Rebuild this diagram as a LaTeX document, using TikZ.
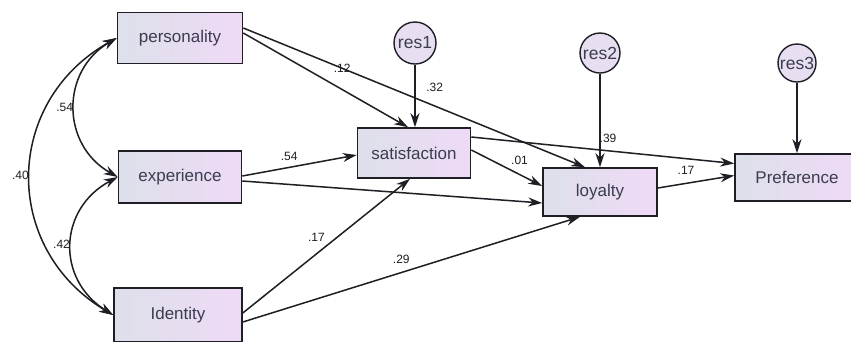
\documentclass[tikz,border=0pt]{standalone}
\usepackage{fontspec}
\setmainfont{Liberation Sans}
\usetikzlibrary{arrows.meta}
\definecolor{boxleft}{RGB}{221,224,234}
\definecolor{boxright}{RGB}{239,218,246}
\definecolor{resfill}{RGB}{232,222,242}
\definecolor{ink}{RGB}{30,30,36}
\definecolor{txt}{RGB}{60,60,80}
\tikzstyle{var} = [draw=ink, line width=1.6pt, left color=boxleft, right color=boxright, text=txt, font=\fontsize{17}{20}\selectfont]
\tikzstyle{res} = [circle, draw=ink, line width=1.4pt, fill=resfill, inner sep=0pt, text=txt, font=\fontsize{17.5}{20}\selectfont]
\tikzstyle{arrow} = [ink, line width=1.5pt, -{Stealth[length=14pt,width=9pt]}]
\tikzstyle{cov} = [ink, line width=1.5pt, {Stealth[length=14pt,width=9pt]}-{Stealth[length=14pt,width=9pt]}]
\tikzstyle{coef} = [text=ink, font=\fontsize{12}{14}\selectfont, inner sep=1pt]

\begin{document}
\begin{tikzpicture}[x=1pt, y=-1pt]
\useasboundingbox [fill=white] (0,0) rectangle (851,341);
\node (pers) [var, minimum width=125pt, minimum height=51pt] at (180,38) {personality};
\node (exp) [var, minimum width=123pt, minimum height=52pt] at (180,177) {experience};
\node (iden) [var, minimum width=128pt, minimum height=54pt] at (178,315) {Identity};
\node (sat) [var, minimum width=113pt, minimum height=50pt] at (414,153) {satisfaction};
\node (loy) [var, minimum width=114pt, minimum height=48pt] at (600,192) {loyalty};
\node (pref) [var, minimum width=124pt, minimum height=47pt] at (797,177.5) {Preference};
\node (res1) [res, minimum size=42pt] at (415,43) {res1};
\node (res2) [res, minimum size=40pt] at (600,53) {res2};
\node (res3) [res, minimum size=38pt] at (797,63) {res3};

\draw [cov] (pers.west) to [bend right=60, looseness=1.2] node [coef, left] {.54} (exp.west);
\draw [cov] (exp.west) to [bend right=60, looseness=1.25] node [coef, left] {.42} (iden.west);
\draw [cov] (pers.west) to [bend right=60, looseness=1.2] node [coef, left] {.40} (iden.west);

\draw [arrow] ([yshift=5pt]pers.east) -- node [coef, pos=0.6, above=15pt] {.12} ([xshift=-6pt]sat.north);
\draw [arrow] ([yshift=10pt]pers.east) -- node [coef, pos=0.56, above=13pt] {.32} ([xshift=-15pt]loy.north);
\draw [arrow] (res1.south) -- (res1.south |- sat.north);
\draw [arrow] ([yshift=1pt]exp.east) -- node [coef, pos=0.41, above=5pt] {.54} ([yshift=-2pt]sat.west);
\draw [arrow] ([yshift=-4pt]exp.east) -- ([yshift=-11pt]loy.west);
\draw [arrow] ([yshift=2pt]iden.east) -- node [coef, pos=0.44, above=11pt] {.17} ([xshift=-4pt]sat.south);
\draw [arrow] ([yshift=-7pt]iden.east) -- node [coef, pos=0.47, above=7pt] {.29} ([xshift=-20pt]loy.south);
\draw [arrow] ([yshift=3pt]sat.east) -- node [coef, pos=0.68, above=8pt] {.01} ([yshift=6pt]loy.west);
\draw [arrow] ([yshift=16pt]sat.east) -- node [coef, pos=0.52, above=6pt] {.39} ([yshift=14pt]pref.west);
\draw [arrow] (res2.south) -- (res2.south |- loy.north);
\draw [arrow] ([yshift=4pt]loy.east) -- node [coef, pos=0.37, above=7pt] {.17} ([yshift=2pt]pref.west);
\draw [arrow] (res3.south) -- (res3.south |- pref.north);
\end{tikzpicture}
\end{document}
